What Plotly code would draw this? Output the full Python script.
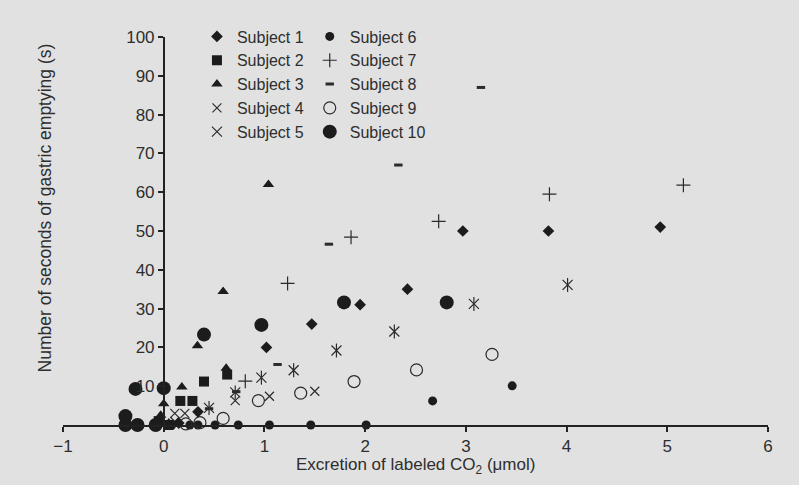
import plotly.graph_objects as go

# ---- data ----
s1_x = [4.93, 3.82, 2.97, 2.42, 1.95, 1.47, 1.02, 0.34, 0.15]
s1_y = [51, 50, 50, 35, 31, 26, 20, 3.4, 0.5]
s2_x = [0.63, 0.40, 0.165, 0.285, -0.05, 0.05]
s2_y = [13.0, 11.2, 6.2, 6.2, 1.0, 0.0]
s3_x = [1.04, 0.59, 0.335, 0.62, 0.18, 0.0, -0.03, 0.05]
s3_y = [62, 34.4, 20.4, 14.6, 9.8, 5.5, 2.5, 0.5]
s4_x = [1.50, 1.05, 0.71, 0.11, 0.21, 0.11]
s4_y = [8.7, 7.4, 6.3, 3.0, 3.0, 0.9]
s5_x = [4.01, 3.08, 2.29, 1.715, 1.29, 0.97, 0.71, 0.45]
s5_y = [36.1, 31.2, 24.1, 19.2, 14.1, 12.2, 8.4, 4.4]
s6_x = [3.46, 2.67, 2.01, 1.46, 1.05, 0.74, 0.51, 0.34, 0.26, 0.08]
s6_y = [10.1, 6.2, 0, 0, 0, 0, 0, 0, 0, 0]
s7_x = [5.16, 3.83, 2.73, 1.86, 1.23, 0.81]
s7_y = [61.8, 59.5, 52.5, 48.4, 36.5, 11.3]
s8_x = [3.15, 2.33, 1.64, 1.13, 0.72, 0.45]
s8_y = [87, 67, 46.6, 15.6, 8.6, 4.2]
s9_x = [3.26, 2.51, 1.89, 1.36, 0.94, 0.59, 0.36, 0.22]
s9_y = [18.2, 14.2, 11.2, 8.2, 6.3, 1.7, 0.6, 0.3]
s10_x = [2.81, 1.79, 0.97, 0.40, 0.0, -0.28, -0.38, -0.38, -0.26, -0.08]
s10_y = [31.6, 31.6, 25.8, 23.3, 9.5, 9.3, 2.3, 0, 0, 0]

x_ticks = [-1, 0, 1, 2, 3, 4, 5, 6]
x_ticktext = ["\u22121", "0", "1", "2", "3", "4", "5", "6"]
y_ticks = [10, 20, 30, 40, 50, 60, 70, 80, 90, 100]

DARK = "#1c1c1c"
LINE = "#2b2b2b"
BG = "#e1e1e1"
TXT = "#2e2e2e"
FONT = "Liberation Sans, Arial, sans-serif"

fig = go.Figure()

def add(name, xs, ys, symbol, size, rank, legend, filled=True, lw=1.2,
        showlegend=True, group=None):
    if filled:
        marker = dict(symbol=symbol, size=size, color=DARK, line=dict(width=0))
    else:
        marker = dict(symbol=symbol, size=size, color=LINE, line=dict(width=lw, color=LINE))
    fig.add_trace(go.Scatter(
        x=xs, y=ys, mode="markers", name=name, marker=marker,
        cliponaxis=False, showlegend=showlegend, legendrank=rank,
        legendgroup=group or name, legend=legend,
    ))

add("Subject 6", s6_x, s6_y, "circle", 9, 6, "legend2")
add("Subject 9", s9_x, s9_y, "circle-open", 12, 9, "legend2", filled=False, lw=1.2)
add("Subject 4", s4_x, s4_y, "x-thin-open", 9, 4, "legend", filled=False, lw=1.2)
add("Subject 5", s5_x, s5_y, "x-thin-open", 10, 5, "legend", filled=False, lw=1.2)
add("Subject 5b", s5_x, s5_y, "line-ns-open", 10, 5, "legend", filled=False, lw=1.2,
    showlegend=False, group="Subject 5")
add("Subject 7", s7_x, s7_y, "cross-thin-open", 10, 7, "legend2", filled=False, lw=1.2)
add("Subject 8", s8_x, s8_y, "line-ew-open", 6, 8, "legend2", filled=False, lw=3)
add("Subject 1", s1_x, s1_y, "diamond", 9, 1, "legend")
add("Subject 2", s2_x, s2_y, "square", 10, 2, "legend")
add("Subject 3", s3_x, s3_y, "triangle-up", 10, 3, "legend")
add("Subject 10", s10_x, s10_y, "circle", 14, 10, "legend2")

tickfont = dict(family=FONT, size=17, color=TXT)
legfont = dict(family=FONT, size=16, color=TXT)

fig.update_layout(
    width=799, height=485,
    margin=dict(l=63, r=31, t=37, b=60, autoexpand=False),
    paper_bgcolor=BG, plot_bgcolor=BG,
    font=dict(family=FONT, size=16, color=TXT),
    showlegend=True,
    legend=dict(
        orientation="v", x=0.19, y=1.045, xanchor="left", yanchor="top",
        bgcolor="rgba(0,0,0,0)", borderwidth=0, font=legfont,
        traceorder="normal",
    ),
    legend2=dict(
        orientation="v", x=0.35, y=1.045, xanchor="left", yanchor="top",
        bgcolor="rgba(0,0,0,0)", borderwidth=0, font=legfont,
        traceorder="normal",
    ),
    xaxis=dict(
        range=[-1, 6], tickmode="array", tickvals=x_ticks, ticktext=x_ticktext,
        showline=True, linecolor="#222222", linewidth=1.5,
        ticks="outside", ticklen=5, tickcolor="#222222", tickwidth=1.5,
        showgrid=False, zeroline=False, tickfont=tickfont,
        automargin=False,
    ),
    yaxis=dict(
        range=[0, 100], tickmode="array", tickvals=y_ticks,
        anchor="free", position=1 / 7,
        showline=True, linecolor="#222222", linewidth=1.5,
        ticks="outside", ticklen=5, tickcolor="#222222", tickwidth=1.5,
        showgrid=False, zeroline=False, tickfont=tickfont,
        automargin=False,
    ),
    annotations=[
        dict(
            text="Number of seconds of gastric emptying (s)",
            xref="paper", yref="paper", x=-0.026, y=0.56,
            textangle=-90, showarrow=False, xanchor="center", yanchor="middle",
            font=dict(family=FONT, size=17.5, color=TXT),
        ),
        dict(
            text="Excretion of labeled CO<sub>2</sub> (\u03bcmol)",
            xref="paper", yref="paper", x=0.5, y=-0.074,
            showarrow=False, xanchor="center", yanchor="top", borderpad=0,
            font=dict(family=FONT, size=17, color=TXT),
        ),
    ],
)

fig.write_html("out.html")
